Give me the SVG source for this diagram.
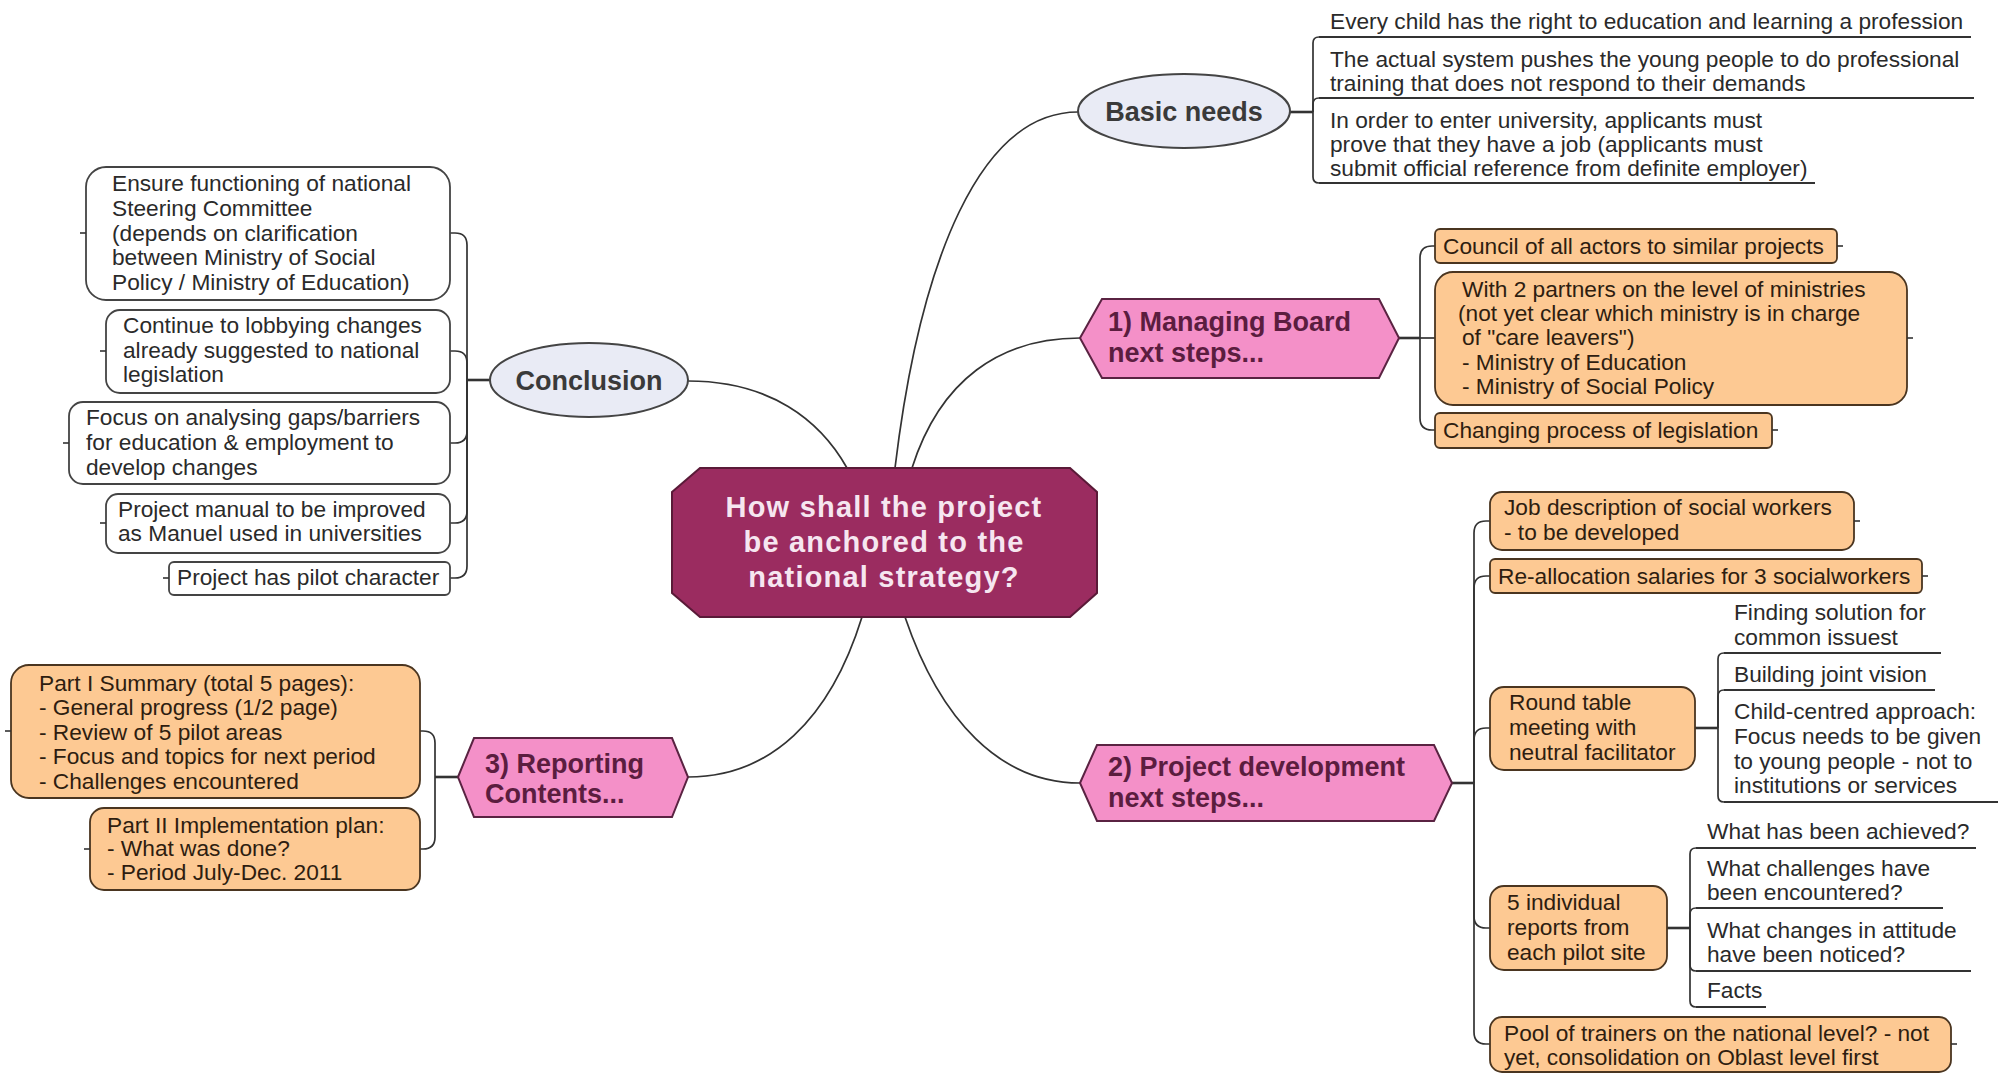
<svg xmlns="http://www.w3.org/2000/svg" width="2006" height="1073" viewBox="0 0 2006 1073">
  <style>
    .conn { fill: none; stroke: #333; stroke-width: 1.7; }
    .thick { fill: none; stroke: #333; stroke-width: 2.6; }
    .stub { stroke: #333; stroke-width: 1.6; }
    .ul { stroke: #333; stroke-width: 2; }
    .box { fill: #fdc993; stroke: #4a3520; stroke-width: 1.8; }
    .wbox { fill: #fff; stroke: #444; stroke-width: 1.8; }
    .ell { fill: #e9ebf5; stroke: #444; stroke-width: 2; }
    .hex { fill: #f490c8; stroke: #5a2342; stroke-width: 2; }
    .core { fill: #9b2c60; stroke: #5a1a38; stroke-width: 2; }
    text { font-family: "Liberation Sans", Arial, sans-serif; }
    .t { font-size: 22.7px; fill: #2a2a2a; }
    .tb { font-size: 22.7px; fill: #2e1d10; }
    .e { font-size: 27px; font-weight: bold; fill: #3a3a3a; text-anchor: middle; }
    .h { font-size: 27px; font-weight: bold; fill: #5b1d3f; }
    .c { font-size: 29px; font-weight: bold; fill: #f6e6f0; text-anchor: middle; letter-spacing: 1.2px; }
  </style>

  <rect width="2006" height="1073" fill="#ffffff"/>

  <!-- connectors -->
  <g id="connectors">
    <!-- central node to main topics -->
    <path class="conn" d="M895,468 C920,260 980,112 1078,112"/>
    <path class="conn" d="M912,468 C940,380 1000,338 1080,338"/>
    <path class="conn" d="M847,468 C820,420 770,381 688,381"/>
    <path class="conn" d="M862,617 C830,720 770,777 688,777"/>
    <path class="conn" d="M905,617 C940,720 1000,783 1080,783"/>

    <!-- Basic needs branch -->
    <line class="thick" x1="1290" y1="112" x2="1313" y2="112"/>
    <path class="conn" d="M1313,112 L1313,43 Q1313,37 1319,37"/>
    <path class="conn" d="M1313,112 L1313,104 Q1313,98 1319,98"/>
    <path class="conn" d="M1313,112 L1313,177 Q1313,183 1319,183"/>

    <!-- Managing Board branch -->
    <line class="thick" x1="1399" y1="338" x2="1420" y2="338"/>
    <path class="conn" d="M1420,338 L1420,258 Q1420,246 1432,246 L1435,246"/>
    <path class="conn" d="M1420,338 L1435,338"/>
    <path class="conn" d="M1420,338 L1420,418 Q1420,430 1432,430 L1435,430"/>

    <!-- Project development branch -->
    <line class="thick" x1="1452" y1="783" x2="1474" y2="783"/>
    <path class="conn" d="M1474,783 L1474,533 Q1474,521 1486,521 L1490,521"/>
    <path class="conn" d="M1474,783 L1474,588 Q1474,576 1486,576 L1490,576"/>
    <path class="conn" d="M1474,783 L1474,740 Q1474,728 1486,728 L1490,728"/>
    <path class="conn" d="M1474,783 L1474,916 Q1474,928 1486,928 L1490,928"/>
    <path class="conn" d="M1474,783 L1474,1032 Q1474,1044 1486,1044 L1490,1044"/>

    <!-- Round table sub-branch -->
    <line class="thick" x1="1695" y1="728" x2="1718" y2="728"/>
    <path class="conn" d="M1718,728 L1718,659 Q1718,653 1724,653"/>
    <path class="conn" d="M1718,728 L1718,696 Q1718,690 1724,690"/>
    <path class="conn" d="M1718,728 L1718,796 Q1718,802 1724,802"/>

    <!-- Individual reports sub-branch -->
    <line class="thick" x1="1667" y1="928" x2="1690" y2="928"/>
    <path class="conn" d="M1690,928 L1690,854 Q1690,848 1696,848"/>
    <path class="conn" d="M1690,928 L1690,914 Q1690,908 1696,908"/>
    <path class="conn" d="M1690,928 L1690,965 Q1690,971 1696,971"/>
    <path class="conn" d="M1690,928 L1690,1001 Q1690,1007 1696,1007"/>

    <!-- Conclusion branch -->
    <line class="thick" x1="490" y1="380" x2="467" y2="380"/>
    <path class="conn" d="M467,380 L467,245 Q467,233 455,233 L450,233"/>
    <path class="conn" d="M467,380 L467,363 Q467,351 455,351 L450,351"/>
    <path class="conn" d="M467,380 L467,431 Q467,443 455,443 L450,443"/>
    <path class="conn" d="M467,380 L467,511 Q467,523 455,523 L450,523"/>
    <path class="conn" d="M467,380 L467,566 Q467,578 455,578 L450,578"/>

    <!-- Reporting branch -->
    <line class="thick" x1="458" y1="777" x2="435" y2="777"/>
    <path class="conn" d="M435,777 L435,743 Q435,731 423,731 L420,731"/>
    <path class="conn" d="M435,777 L435,837 Q435,849 423,849 L420,849"/>
  </g>

  <!-- central topic -->
  <g id="central">
    <polygon class="core" points="672,492 700,468 1070,468 1097,492 1097,593 1070,617 700,617 672,593"/>
    <text class="c"><tspan x="884" y="517">How shall the project</tspan><tspan x="884" y="552">be anchored to the</tspan><tspan x="884" y="587">national strategy?</tspan></text>
  </g>

  <!-- Basic needs -->
  <g id="basic-needs">
    <ellipse class="ell" cx="1184" cy="111" rx="106" ry="37"/>
    <text class="e" x="1184" y="121">Basic needs</text>
  </g>
  <g id="bn-right-to-education">
    <line class="ul" x1="1319" y1="37" x2="1971" y2="37"/>
    <text class="t" x="1330" y="29">Every child has the right to education and learning a profession</text>
  </g>
  <g id="bn-system">
    <line class="ul" x1="1319" y1="98" x2="1974" y2="98"/>
    <text class="t"><tspan x="1330" y="67">The actual system pushes the young people to do professional</tspan><tspan x="1330" y="91">training that does not respond to their demands</tspan></text>
  </g>
  <g id="bn-university">
    <line class="ul" x1="1319" y1="183" x2="1815" y2="183"/>
    <text class="t"><tspan x="1330" y="128">In order to enter university, applicants must</tspan><tspan x="1330" y="152">prove that they have a job (applicants must</tspan><tspan x="1330" y="176">submit official reference from definite employer)</tspan></text>
  </g>

  <!-- 1) Managing Board -->
  <g id="managing-board">
    <polygon class="hex" points="1080,338 1102,299 1379,299 1399,338 1379,378 1102,378"/>
    <text class="h"><tspan x="1108" y="331">1) Managing Board</tspan><tspan x="1108" y="362">next steps...</tspan></text>
  </g>
  <g id="mb-council">
    <rect class="box" x="1435" y="229" width="402" height="34" rx="5"/>
    <line class="stub" x1="1837" y1="246" x2="1843" y2="246"/>
    <text class="tb" x="1443" y="254">Council of all actors to similar projects</text>
  </g>
  <g id="mb-partners">
    <rect class="box" x="1435" y="272" width="472" height="133" rx="18"/>
    <line class="stub" x1="1907" y1="338" x2="1913" y2="338"/>
    <text class="tb"><tspan x="1462" y="297">With 2 partners on the level of ministries</tspan><tspan x="1458" y="321">(not yet clear which ministry is in charge</tspan><tspan x="1462" y="345">of "care leavers")</tspan><tspan x="1462" y="370">- Ministry of Education</tspan><tspan x="1462" y="394">- Ministry of Social Policy</tspan></text>
  </g>
  <g id="mb-legislation">
    <rect class="box" x="1435" y="413" width="337" height="35" rx="5"/>
    <line class="stub" x1="1772" y1="430" x2="1778" y2="430"/>
    <text class="tb" x="1443" y="438">Changing process of legislation</text>
  </g>

  <!-- 2) Project development -->
  <g id="project-development">
    <polygon class="hex" points="1080,783 1097,745 1434,745 1452,783 1434,821 1097,821"/>
    <text class="h"><tspan x="1108" y="776">2) Project development</tspan><tspan x="1108" y="807">next steps...</tspan></text>
  </g>
  <g id="pd-job-description">
    <rect class="box" x="1490" y="492" width="364" height="58" rx="12"/>
    <line class="stub" x1="1854" y1="521" x2="1860" y2="521"/>
    <text class="tb"><tspan x="1504" y="515">Job description of social workers</tspan><tspan x="1504" y="540">- to be developed</tspan></text>
  </g>
  <g id="pd-salaries">
    <rect class="box" x="1490" y="559" width="432" height="34" rx="5"/>
    <line class="stub" x1="1922" y1="576" x2="1928" y2="576"/>
    <text class="tb" x="1498" y="584">Re-allocation salaries for 3 socialworkers</text>
  </g>
  <g id="pd-round-table">
    <rect class="box" x="1490" y="687" width="205" height="83" rx="14"/>
    <text class="tb"><tspan x="1509" y="710">Round table</tspan><tspan x="1509" y="735">meeting with</tspan><tspan x="1509" y="760">neutral facilitator</tspan></text>
  </g>
  <g id="rt-common-issues">
    <line class="ul" x1="1724" y1="653" x2="1941" y2="653"/>
    <text class="t"><tspan x="1734" y="620">Finding solution for</tspan><tspan x="1734" y="645">common issuest</tspan></text>
  </g>
  <g id="rt-joint-vision">
    <line class="ul" x1="1724" y1="690" x2="1935" y2="690"/>
    <text class="t" x="1734" y="682">Building joint vision</text>
  </g>
  <g id="rt-child-centred">
    <line class="ul" x1="1724" y1="802" x2="1998" y2="802"/>
    <text class="t"><tspan x="1734" y="719">Child-centred approach:</tspan><tspan x="1734" y="744">Focus needs to be given</tspan><tspan x="1734" y="769">to young people - not to</tspan><tspan x="1734" y="793">institutions or services</tspan></text>
  </g>
  <g id="pd-individual-reports">
    <rect class="box" x="1490" y="886" width="177" height="84" rx="14"/>
    <text class="tb"><tspan x="1507" y="910">5 individual</tspan><tspan x="1507" y="935">reports from</tspan><tspan x="1507" y="960">each pilot site</tspan></text>
  </g>
  <g id="ir-achieved">
    <line class="ul" x1="1696" y1="848" x2="1976" y2="848"/>
    <text class="t" x="1707" y="839">What has been achieved?</text>
  </g>
  <g id="ir-challenges">
    <line class="ul" x1="1696" y1="908" x2="1943" y2="908"/>
    <text class="t"><tspan x="1707" y="876">What challenges have</tspan><tspan x="1707" y="900">been encountered?</tspan></text>
  </g>
  <g id="ir-attitude">
    <line class="ul" x1="1696" y1="971" x2="1971" y2="971"/>
    <text class="t"><tspan x="1707" y="938">What changes in attitude</tspan><tspan x="1707" y="962">have been noticed?</tspan></text>
  </g>
  <g id="ir-facts">
    <line class="ul" x1="1696" y1="1007" x2="1766" y2="1007"/>
    <text class="t" x="1707" y="998">Facts</text>
  </g>
  <g id="pd-trainers">
    <rect class="box" x="1490" y="1017" width="461" height="55" rx="12"/>
    <line class="stub" x1="1951" y1="1044" x2="1957" y2="1044"/>
    <text class="tb"><tspan x="1504" y="1041">Pool of trainers on the national level? - not</tspan><tspan x="1504" y="1065">yet, consolidation on Oblast level first</tspan></text>
  </g>

  <!-- Conclusion -->
  <g id="conclusion">
    <ellipse class="ell" cx="589" cy="380" rx="99" ry="37"/>
    <text class="e" x="589" y="390">Conclusion</text>
  </g>
  <g id="cn-steering-committee">
    <rect class="wbox" x="86" y="167" width="364" height="133" rx="20"/>
    <line class="stub" x1="86" y1="233" x2="80" y2="233"/>
    <text class="t"><tspan x="112" y="191">Ensure functioning of national</tspan><tspan x="112" y="216">Steering Committee</tspan><tspan x="112" y="241">(depends on clarification</tspan><tspan x="112" y="265">between Ministry of Social</tspan><tspan x="112" y="290">Policy / Ministry of Education)</tspan></text>
  </g>
  <g id="cn-lobbying">
    <rect class="wbox" x="106" y="310" width="344" height="83" rx="14"/>
    <line class="stub" x1="106" y1="351" x2="100" y2="351"/>
    <text class="t"><tspan x="123" y="333">Continue to lobbying changes</tspan><tspan x="123" y="358">already suggested to national</tspan><tspan x="123" y="382">legislation</tspan></text>
  </g>
  <g id="cn-gaps">
    <rect class="wbox" x="69" y="402" width="381" height="82" rx="14"/>
    <line class="stub" x1="69" y1="443" x2="63" y2="443"/>
    <text class="t"><tspan x="86" y="425">Focus on analysing gaps/barriers</tspan><tspan x="86" y="450">for education &amp; employment to</tspan><tspan x="86" y="475">develop changes</tspan></text>
  </g>
  <g id="cn-manual">
    <rect class="wbox" x="106" y="494" width="344" height="59" rx="12"/>
    <line class="stub" x1="106" y1="523" x2="100" y2="523"/>
    <text class="t"><tspan x="118" y="517">Project manual to be improved</tspan><tspan x="118" y="541">as Manuel used in universities</tspan></text>
  </g>
  <g id="cn-pilot">
    <rect class="wbox" x="169" y="562" width="281" height="33" rx="5"/>
    <line class="stub" x1="169" y1="578" x2="163" y2="578"/>
    <text class="t" x="177" y="585">Project has pilot character</text>
  </g>

  <!-- 3) Reporting -->
  <g id="reporting">
    <polygon class="hex" points="458,777 474,738 672,738 688,777 672,817 474,817"/>
    <text class="h"><tspan x="485" y="773">3) Reporting</tspan><tspan x="485" y="803">Contents...</tspan></text>
  </g>
  <g id="rp-part-one">
    <rect class="box" x="11" y="665" width="409" height="133" rx="18"/>
    <line class="stub" x1="11" y1="731" x2="5" y2="731"/>
    <text class="tb"><tspan x="39" y="691">Part I Summary (total 5 pages):</tspan><tspan x="39" y="715">- General progress (1/2 page)</tspan><tspan x="39" y="740">- Review of 5 pilot areas</tspan><tspan x="39" y="764">- Focus and topics for next period</tspan><tspan x="39" y="789">- Challenges encountered</tspan></text>
  </g>
  <g id="rp-part-two">
    <rect class="box" x="90" y="808" width="330" height="82" rx="14"/>
    <line class="stub" x1="90" y1="849" x2="84" y2="849"/>
    <text class="tb"><tspan x="107" y="833">Part II Implementation plan:</tspan><tspan x="107" y="856">- What was done?</tspan><tspan x="107" y="880">- Period July-Dec. 2011</tspan></text>
  </g>
</svg>
